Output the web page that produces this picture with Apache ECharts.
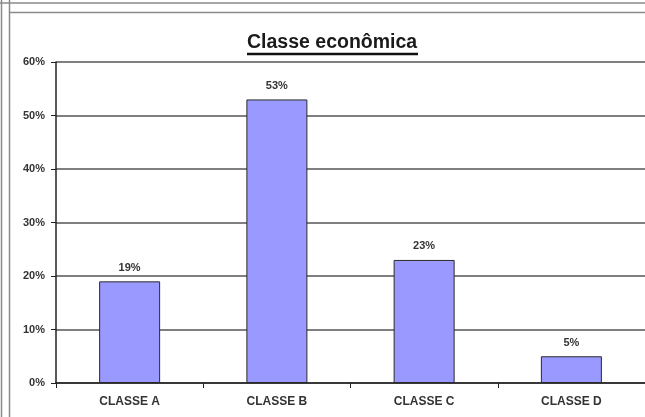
<!DOCTYPE html>
<html>
<head>
<meta charset="utf-8">
<script src="https://cdn.jsdelivr.net/npm/echarts@6/dist/echarts.min.js"></script>
<style>
  html, body { margin: 0; padding: 0; background: #fff; }
  #myCharts { width: 645px; height: 417px; }
</style>
</head>
<body>
<div id="myCharts"></div>
<script>
// dados do grafico
var categorias = ['CLASSE A', 'CLASSE B', 'CLASSE C', 'CLASSE D']
var valores = [19, 53, 23, 5]
var titulo = 'Classe econômica'

var myCharts = echarts.init(document.getElementById('myCharts'))

var frameStyle = { stroke: '#8a8a8a', lineWidth: 1.5 }

var option = {
  backgroundColor: '#fff',
  animation: false,
  title: {
    text: titulo,
    left: 247,
    top: 33,
    padding: 0,
    textStyle: {
      fontFamily: 'Liberation Sans',
      fontSize: 19.5,
      fontWeight: 'bold',
      color: '#1a1a1a'
    }
  },
  // moldura e sublinhado do titulo
  graphic: [
    { type: 'line', shape: { x1: 0, y1: 3, x2: 645, y2: 3 }, style: frameStyle },
    { type: 'line', shape: { x1: 10, y1: 12.5, x2: 645, y2: 12.5 }, style: frameStyle },
    { type: 'line', shape: { x1: 1.5, y1: 0, x2: 1.5, y2: 417 }, style: frameStyle },
    { type: 'line', shape: { x1: 9.5, y1: 0, x2: 9.5, y2: 417 }, style: frameStyle },
    { type: 'line', shape: { x1: 247, y1: 54, x2: 418, y2: 54 }, style: { stroke: '#111', lineWidth: 2.5 } }
  ],
  grid: {
    left: 56,
    right: 0,
    top: 62,
    bottom: 34,
    containLabel: false
  },
  xAxis: {
    type: 'category',
    data: categorias,
    axisLine: { lineStyle: { color: '#222', width: 1.5 } },
    axisTick: { show: true, length: 5, alignWithLabel: false, lineStyle: { color: '#222' } },
    axisLabel: {
      margin: 13,
      fontFamily: 'Liberation Sans',
      fontSize: 12,
      fontWeight: 'bold',
      color: '#333'
    }
  },
  yAxis: {
    type: 'value',
    min: 0,
    max: 60,
    interval: 10,
    axisLine: { show: true, lineStyle: { color: '#222', width: 1.5 } },
    axisTick: { show: true, length: 5, lineStyle: { color: '#222' } },
    axisLabel: {
      formatter: '{value}%',
      margin: 11,
      fontFamily: 'Liberation Sans',
      fontSize: 11,
      fontWeight: 'bold',
      color: '#333'
    },
    splitLine: { lineStyle: { color: '#555', width: 1.5 } }
  },
  series: [
    {
      type: 'bar',
      data: valores,
      barWidth: 61,
      itemStyle: {
        color: '#9999ff',
        borderColor: '#2a2a2a',
        borderWidth: 1
      },
      label: {
        show: true,
        position: 'top',
        distance: 8,
        formatter: '{c}%',
        fontFamily: 'Liberation Sans',
        fontSize: 11,
        fontWeight: 'bold',
        color: '#333'
      }
    }
  ]
}

myCharts.setOption(option)
</script>
</body>
</html>
